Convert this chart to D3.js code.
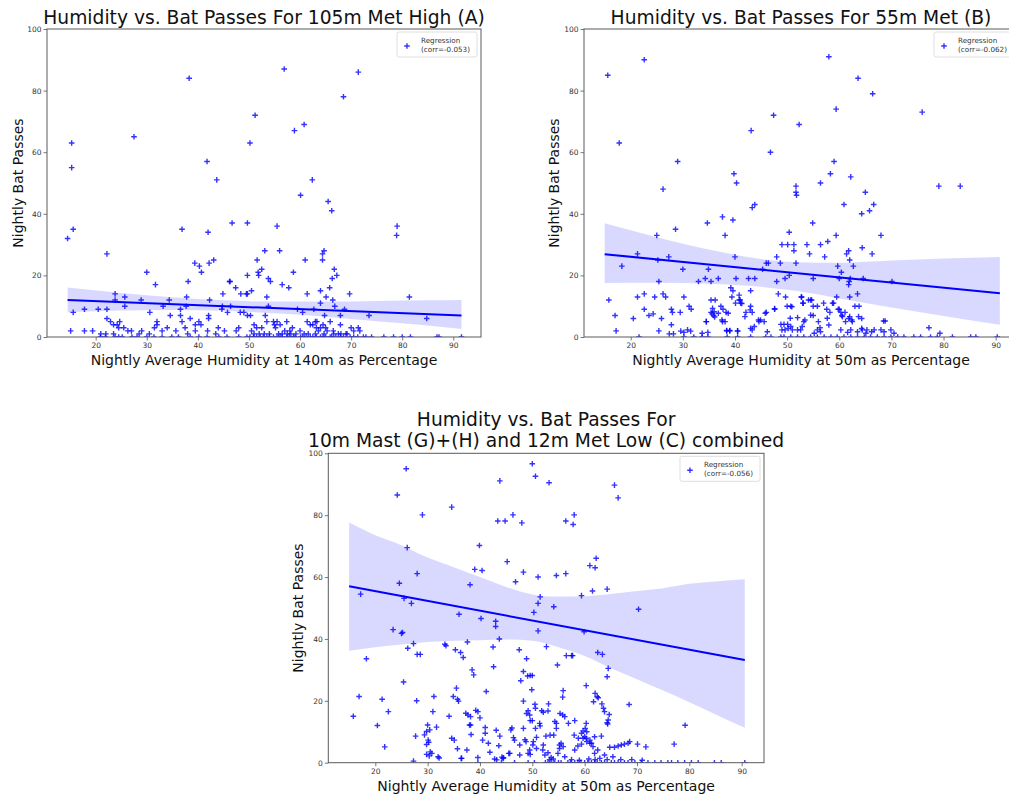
<!DOCTYPE html>
<html>
<head>
<meta charset="utf-8">
<script src="https://cdn.jsdelivr.net/npm/d3@7"></script>
<style>
  body { margin: 0; background: #fff; }
  svg { display: block; }
  text { font-family: "DejaVu Sans", sans-serif; }
</style>
</head>
<body>
<svg id="chart" width="1009" height="798"></svg>
<script>
// ---- shared axis ticks ----
const xTicks = [20, 30, 40, 50, 60, 70, 80, 90];
const yTicks = [0, 20, 40, 60, 80, 100];

// ---- (A) 105m Met High: [humidity %, bat passes] per night ----
const titleA = ["Humidity vs. Bat Passes For 105m Met High (A)"];
const xLabelA = "Nightly Average Humidity at 140m as Percentage";
const corrA = "-0.053";
const nightsA = [
  [14.5,32],[15.3,63],[15.3,55],[15.6,35],[15.6,8],[15.1,2],[27.5,65],[38.3,84],[56.9,87],[71.4,86],[68.5,78],[51.2,72],
  [50.2,63],[58.9,67],[60.8,69],[41.8,57],[43.7,51],[62.4,51],[60.1,46],[65.5,44],[66.2,41],[36.9,35],[42.0,34],[55.5,36],
  [46.7,37],[49.7,37],[78.9,33],[79.0,36],[22.2,27],[53.1,28],[56.0,28],[64.4,27],[64.7,28],[39.4,24],[40.3,23],[40.7,21],
  [42.2,24],[43.1,25],[51.6,25],[61.0,25],[64.4,25],[30.0,21],[31.7,17],[38.1,18],[46.2,18],[46.3,18],[47.4,16],[49.7,20],
  [51.8,21],[51.9,20],[52.5,22],[53.8,19],[54.2,18],[58.7,21],[56.5,17],[57.8,16],[66.7,22],[66.3,19],[67.2,20],[65.8,16],[64.0,15],
  [23.8,14],[23.8,12],[25.7,13],[25.7,10],[28.9,12],[34.4,12],[33.2,10],[37.8,13],[37.7,10],[42.3,12],[44.9,14],[48.4,14],
  [49.5,14],[49.7,14],[50.5,15],[53.5,13],[61.4,14],[65.1,13],[69.7,14],[81.4,13],[84.8,6],[73.5,7],[68.7,9],[67.9,7],
  [66.8,10],[66.4,12],[64.0,11],[64.8,7],[65.9,5],[67.9,4],[71.4,3],[71.7,2],
  [17.8,9],[20.5,9],[22.2,9],[22.2,6],[22.9,5],[23.5,4],[24.2,4],[24.5,3],[30.6,8],[32.0,5],[32.0,4],[34.6,7],[36.6,9],
  [36.6,7],[36.9,5],[38.5,6],[39.5,4],[40.2,5],[40.6,4],[42.1,7],[42.1,6],[44.7,9],[45.8,8],[44.8,10],[46.4,10],[48.3,8],
  [49.0,8],[49.7,7],[50.3,7],[53.8,10],[53.2,7],[53.5,5],[56.1,4],[54.8,5],[57.4,5],[61.4,5],[62.7,9],[63.3,5],[62.5,4],
  [63.2,3],[64.0,3],[64.5,4],[65.0,3],[62.0,4],[65.3,2],[63.6,2],[52.5,3],[55.2,3],[55.0,4],[55.5,5],[57.0,2],[58.5,3],
  [60.0,2],[59.2,1],[48.0,3],[47.5,2],[45.2,2],[44.0,3],[43.5,1],[41.9,2],[39.5,2],[38.0,1],[37.5,3],[35.7,2],[34.0,3],
  [33.0,2],[31.5,3],[30.5,1],[29.0,2],[27.0,2],[25.5,3],[24.7,5],[26.3,2],[28.5,1],[51.0,4],[51.5,3],[50.5,2],[53.0,1],
  [56.5,1],[58.0,2],[59.5,9],[60.5,8],[63.0,5],[70.0,3],[70.5,2],[69.0,1],[67.5,1],[66.5,2],[17.8,2],[19.4,2],[21.0,1],
  [22.0,1],[23.5,1],
  [51.0,1],[52.0,1],[54.0,1],[55.8,1],[57.5,1],[58.2,1],[60.8,1],[61.6,1],[63.0,1],[64.7,1],[66.6,1],[68.0,1],[69.2,1],
  [20.9,0],[21.9,0],[23.8,0],[24.5,0],[25.2,0],[27.1,0],[28.1,0],[30.0,0],[31.4,0],[33.0,0],[34.9,0],[36.2,0],[38.5,0],
  [40.2,0],[41.8,0],[44.1,0],[45.7,0],[48.0,0],[49.6,0],[50.9,0],[52.2,0],[53.5,0],[54.8,0],[56.1,0],[57.4,0],[58.7,0],
  [60.1,0],[62.0,0],[64.0,0],[65.9,0],[67.9,0],[69.8,0],[72.4,0],[74.0,0],[76.4,0],[78.3,0],[80.0,0],[81.6,0],[86.8,0],
  [87.2,0],[91.6,0],[50.2,0],[51.5,0],[52.8,0],[54.0,0],[55.5,0],[56.5,0],[57.9,0],[59.0,0],[60.5,0],[61.2,0],[62.5,0],
  [63.2,0],[64.5,0],[65.0,0],[66.2,0],[67.0,0],[68.5,0],[70.5,0],[71.3,0],[72.9,0]
];
const fitA = [[14.5,12.0],[91.6,7.0]];
// confidence band: [humidity, lower, upper]
const bandA = [[14.5,8.0,16.1],[25,8.6,14.3],[35,8.8,12.9],[45,8.5,11.9],[55,7.7,11.5],[65,6.6,11.5],[75,5.1,11.7],[85,3.7,11.9],[91.6,2.6,12.0]];

// ---- (B) 55m Met ----
const titleB = ["Humidity vs. Bat Passes For 55m Met (B)"];
const xLabelB = "Nightly Average Humidity at 50m as Percentage";
const corrB = "-0.062";
const nightsB = [
  [15.6,85],[22.6,90],[17.8,63],[29.0,57],[26.2,48],[28.6,35],[25.0,33],[21.3,27],[18.3,23],[58.0,91],[63.6,84],[66.4,79],
  [47.4,72],[43.1,67],[59.4,74],[52.3,69],[75.9,73],[46.8,60],[59.0,57],[58.3,53],[56.4,50],[62.2,52],[39.8,53],[40.3,50],
  [51.7,49],[51.7,47],[51.8,46],[65.0,47],[79.1,49],[83.2,49],[37.6,39],[39.6,38],[43.3,42],[43.8,43],[60.9,43],[64.3,40],
  [65.8,41],[66.6,43],[34.7,37],[38.1,33],[54.9,37],[59.4,33],[68.0,33],[50.4,34],[49.0,30],[50.1,30],[51.3,30],[53.8,30],
  [56.4,30],[57.8,31],[51.3,28],[51.7,24],[54.3,27],[57.2,26],[61.4,27],[61.8,28],[64.4,29],[66.3,27],[40.0,26],[27.3,26],
  [25.2,25],[30.0,22],[34.9,22],[33.0,18],[34.3,19],[35.4,18],[36.8,19],[40.2,19],[42.6,19],[43.8,19],[45.3,22],[46.0,24],
  [46.4,24],[48.0,26],[48.7,24],[48.0,18],[49.6,19],[50.4,20],[55.0,19],[59.7,23],[60.4,21],[60.0,19],[61.9,18],[61.8,17],
  [62.1,19],[62.0,25],[62.7,23],[64.6,19],[70.1,18],[25.4,18],
  [15.8,12],[17.0,7],[17.2,2],[21.3,13],[22.6,14],[20.5,6],[22.6,9],[23.5,7],[24.3,7.5],[24.6,13],[25.9,6],[25.4,2],
  [26.2,14],[26.7,13],[27.8,9],[28.0,8],[27.8,4],[27.4,1],[28.2,1],[29.5,8],[30.2,13],[31.2,10],[31.6,9],[34.5,5],
  [35.4,12],[36.2,12],[35.4,8],[35.6,7.5],[35.9,7],[36.1,6.5],[37.3,10],[37.7,9],[37.6,5],[38.3,8],[38.4,2],[39.0,2],
  [39.2,16],[39.6,15],[39.4,13],[40.1,11],[40.5,2],[40.8,12],[41.1,11],[40.8,13.6],[42.1,8],[43.3,8],[43.0,15],[43.0,10],
  [46.0,8],[47.6,9],[48.3,14],[49.7,13],[50.0,10],[50.7,10],[52.7,13],[53.0,11],[54.5,12],[55.0,10],[55.8,10],[58.7,11],
  [59.5,13],[60.0,9],[60.3,8],[62.0,13],[63.5,14],[63.8,10],[64.3,6],
  [35.7,9.3],[36.0,8.2],[36.8,7.7],[37.5,5.5],[38.1,5.0],[38.7,7.7],[41.0,12.0],[41.3,10.9],[41.9,6.6],[42.9,8.8],[44.5,5.5],
  [45.8,7.7],[47.6,9.2],[50.6,6.1],[50.9,9.8],
  [52.8,13],[53.1,11],[54.1,12],[54.7,12],[55.0,7],[56.0,5],[56.3,3],[57.0,11],[57.6,9],[58.2,8],[58.9,11],[59.8,9],
  [60.5,7],[61.1,8],[61.8,6],[62.4,5.5],[63.0,10],[63.7,6.6],[64.3,2.8],[65.3,2.3],[66.2,1.7],
  [29.6,1.9],[30.2,1.5],[30.9,2.3],[31.5,1.9],[33.7,1.2],[34.8,1.5],[34.5,5.0],[38.4,2.1],[39.0,2.1],[40.5,1.9],[43.0,2.8],
  [43.3,2.3],[43.7,3.4],[44.6,5.0],[44.9,5.5],[45.6,5.0],[46.2,1.7],[48.8,4.1],[49.4,4.1],[50.1,4.1],[50.7,3.4],[49.0,2.3],
  [49.6,2.3],[50.2,2.8],[51.0,2.3],[52.0,2.3],[52.6,2.3],[52.9,3.4],[53.2,5.0],[52.0,6.3],[53.4,5.5],[54.5,7.1],[55.2,1.2],
  [55.8,2.3],[56.4,1.7],[58.0,3.9],[57.7,6.1],[60.6,6.6],[61.2,5.0],[62.0,6.6],[62.5,5.0],[60.3,2.3],[61.6,1.5],[62.2,2.3],
  [63.5,1.7],[64.4,2.3],[65.1,1.2],[66.7,2.3],[68.0,2.3],[68.6,1.7],[69.9,2.3],[70.5,1.2],[68.5,5.2],[68.8,5.2],
  [77.2,3.0],[79.3,1.2],
  [21.6,0],[30.2,0],[32.1,0],[33.7,0],[34.8,0],[38.5,0],[40.5,0],[43.0,0],[45.9,0],[46.9,0],[48.8,0],[49.4,0],[50.7,0],
  [52.0,0],[53.2,0],[54.5,0],[55.8,0],[57.1,0],[58.4,0],[59.6,0],[60.9,0],[62.2,0],[63.5,0],[64.8,0],[66.0,0],[67.3,0],
  [68.6,0],[69.9,0],[71.2,0],[72.4,0],[74.3,0],[75.6,0],[77.5,0],[78.8,0],[81.7,0],[85.2,0],[86.2,0],[90.3,0]
];
const fitB = [[15.0,26.9],[90.8,14.2]];
const bandB = [[15.0,17.5,36.9],[25,17.6,32.4],[35,17.3,28.4],[45,16.3,25.3],[52,14.9,24.3],[60,12.5,24.1],[70,9.6,24.8],[80,6.8,25.5],[90.8,4.0,26.0]];

// ---- (C) 10m Mast (G)+(H) and 12m Met Low (C) ----
const titleC = ["Humidity vs. Bat Passes For", "10m Mast (G)+(H) and 12m Met Low (C) combined"];
const xLabelC = "Nightly Average Humidity at 50m as Percentage";
const corrC = "-0.056";
const nightsC = [
  [15.8,15.0],[16.9,21.4],[17.2,54.5],[18.3,33.6],[20.4,12.0],[21.3,20.5],[21.8,5.1],[22.5,16.5],[23.4,43.0],[24.2,86.5],
  [24.6,58.0],[25.0,41.8],[25.2,42.1],[25.4,26.1],[25.5,53.1],[25.9,95.0],[26.1,69.5],[26.2,37.0],[26.9,51.5],[27.3,38.5],
  [27.7,8.6],[27.9,20.0],[28.0,35.0],[28.6,35.0],[28.0,61.1],[27.3,0.5],[29.0,80.1],
  [29.4,9.0],[29.8,10.1],[30.0,12.2],[30.2,6.6],[29.8,5.9],[29.8,2.7],[30.3,2.2],[30.8,3.0],[30.5,3.5],
  [31.0,16.5],[31.2,21.4],[31.7,11.5],[32.0,1.9],[32.2,1.5],[33.3,38.3],[33.5,37.8],[34.1,15.0],[34.6,82.6],[34.6,7.9],
  [35.1,7.3],[35.3,36.5],[34.9,21.4],[35.7,20.5],[35.9,19.9],[35.5,24.1],[35.7,4.5],[36.0,48.0],[36.3,35.6],[36.8,34.0],
  [36.5,1.4],[37.3,16.0],[37.5,4.1],[37.6,39.0],[38.1,57.5],[38.0,12.2],[38.2,12.2],[38.2,14.9],[38.3,9.1],[38.5,30.0],
  [38.8,28.4],[39.0,62.5],[39.2,16.9],[39.6,16.5],[39.9,70.2],[40.0,14.5],[40.2,46.6],[40.4,62.1],[40.5,7.3],[41.0,9.5],
  [41.0,11.4],[41.2,23.0],[41.6,6.3],[41.9,3.4],[42.5,37.4],[42.6,31.0],[43.0,45.7],[43.0,44.0],[43.1,10.5],[43.4,78.1],
  [44.8,78.1],[43.7,40.0],[43.8,91.1],[43.8,8.6],[43.2,0.9],[43.6,5.5],[44.2,1.8],[44.5,1.6],[45.2,65.0],[45.5,3.0],
  [45.9,10.6],[46.1,11.2],[46.3,80.1],[46.4,8.1],[46.8,58.5],[47.5,36.5],[47.8,26.5],[48.0,77.5],[48.3,61.6],[48.3,19.9],
  [48.3,11.1],[48.3,29.5],[48.6,7.4],[48.8,6.8],[48.9,33.6],[48.9,15.9],[49.1,28.0],[49.6,28.2],[50.0,28.2],[49.6,13.6],
  [50.0,13.6],[49.9,23.6],[50.0,96.6],[50.3,48.6],[50.6,92.6],[50.5,18.9],[50.6,17.6],[50.6,11.1],[50.8,8.2],[51.1,60.0],
  [51.1,51.5],[51.1,42.6],[51.5,53.6],[51.5,11.9],[51.8,16.8],[52.1,16.3],[52.7,37.5],[53.1,19.0],[53.2,90.5],[53.4,8.9],
  [54.1,50.4],[54.3,13.3],[54.6,12.7],[54.1,8.9],[54.6,60.5],[54.8,31.6],[55.3,15.9],[55.8,15.4],[55.8,21.2],[55.9,23.3],
  [56.4,61.1],[56.4,78.1],[56.5,34.6],[56.9,12.7],[57.5,34.6],[57.7,34.6],[57.8,77.0],[58.0,80.1],[58.1,13.6],[59.4,54.0],
  [59.9,42.3],[60.3,24.9],[60.3,12.7],[61.0,63.7],[61.5,55.5],[61.7,19.7],[62.0,63.0],[62.2,66.1],[62.0,22.4],[62.4,21.3],
  [62.6,21.0],[62.5,35.6],[63.4,35.0],[63.3,19.0],[63.6,17.6],[63.8,16.5],[64.3,56.1],[64.5,30.5],[64.3,27.8],[64.3,12.9],
  [64.4,12.5],[64.7,15.6],[65.7,89.7],[66.4,85.6],[68.5,18.8],[70.3,49.6],[71.7,5.1],[77.1,6.0],[79.2,12.1],
  [30.4,10.6],[30.1,7.3],[37.7,15.4],[46.6,7.3],[47.6,5.7],[49.2,16.8],[49.5,15.4],[51.4,12.7],[53.0,16.7],[54.6,11.1],
  [55.2,5.7],[56.2,14.9],[59.7,10.3],[60.0,8.4],[60.1,11.1],[61.9,8.4],[63.2,8.6],[64.5,13.8],
  [58.0,8.9],[58.8,7.9],[59.4,9.5],[60.4,10.0],[60.4,6.8],[61.0,6.3],[52.1,5.7],[52.6,8.6],[49.6,2.7],[50.1,5.7],[50.2,6.8],
  [36.4,1.4],[39.6,1.7],[42.8,1.2],[44.4,1.4],[45.7,3.0],[47.6,2.5],[49.2,3.0],[49.5,4.1],[50.8,4.6],[52.0,4.1],[52.4,2.5],
  [53.0,3.2],[53.6,1.7],[54.9,3.0],[55.2,4.6],[55.5,6.3],[55.9,5.2],[56.2,1.9],[58.1,4.1],[58.7,5.4],[59.4,6.0],[59.7,7.9],
  [60.3,7.9],[61.0,7.3],[61.3,6.3],[61.6,5.2],[61.9,3.0],[62.5,4.1],[62.9,1.4],[63.8,2.5],[64.8,5.0],[65.4,1.9],[65.7,5.0],
  [66.4,5.4],[67.0,5.7],[67.6,6.0],[68.3,6.3],[68.6,6.8],[70.1,6.0],
  [53.3,1.0],[54.0,1.2],[57.5,1.0],[59.0,0.8],[60.8,1.2],[62.0,1.0],[64.3,1.0],[66.9,1.0],[69.0,1.0],[71.0,0.8],
  [39.6,0],[44.1,0],[46.6,0],[49.2,0],[50.4,0],[53.0,0],[53.6,0],[54.3,0],[55.5,0],[56.8,0],[58.1,0],[58.7,0],[60.0,0],
  [61.3,0],[61.9,0],[63.2,0],[63.8,0],[65.1,0],[65.7,0],[66.4,0],[67.6,0],[68.3,0],[69.6,0],[70.8,0],[72.1,0],[73.4,0],
  [74.6,0],[75.9,0],[76.6,0],[77.8,0],[79.1,0],[80.4,0],[81.7,0],[84.8,0],[86.1,0],[90.6,0],[52.5,0],[55.0,0],[57.3,0],
  [59.3,0],[60.6,0],[62.4,0]
];
const fitC = [[15.0,57.0],[90.6,33.2]];
const bandC = [[15,36.2,77.6],[20,37.3,73.5],[25,38.2,70.3],[30,39.0,66.3],[35,39.4,63.2],[40,39.6,60.0],[45,39.8,56.8],
  [50,39.4,54.4],[55,37.3,53.7],[60,34.5,53.8],[65,30.5,54.5],[70,27.0,55.5],[75,23.3,56.4],[80,19.5,57.8],[85,15.6,58.6],[90.6,11.3,59.3]];

// ---- panel layout ----
const panels = [
  { key: "a", title: titleA, xLabel: xLabelA, corr: corrA, nights: nightsA, fit: fitA, band: bandA,
    frame: { left: 47, top: 29, right: 481, bottom: 337 }, xDomain: [10.47, 95.42],
    titleBase: 24, xLabelBase: 365, yLabelBase: 23 },
  { key: "b", title: titleB, xLabel: xLabelB, corr: corrB, nights: nightsB, fit: fitB, band: bandB,
    frame: { left: 584, top: 29, right: 1018, bottom: 337 }, xDomain: [11.04, 94.28],
    titleBase: 24, xLabelBase: 365, yLabelBase: 559 },
  { key: "c", title: titleC, xLabel: xLabelC, corr: corrC, nights: nightsC, fit: fitC, band: bandC,
    frame: { left: 328.3, top: 453.3, right: 764, bottom: 762.7 }, xDomain: [11.02, 94.27],
    titleBase: 425.5, xLabelBase: 791, yLabelBase: 303 }
];

const svg = d3.select("#chart");
svg.append("rect").attr("width", 1009).attr("height", 798).attr("fill", "#fff");

const plus = "M-2.8,0H2.8M0,-2.8V2.8";
const markColor = "#0000ff";

panels.forEach(p => {
  const f = p.frame;
  const x = d3.scaleLinear().domain(p.xDomain).range([f.left, f.right]);
  const y = d3.scaleLinear().domain([0, 100]).range([f.bottom, f.top]);
  const g = svg.append("g");

  g.append("clipPath").attr("id", "clip-" + p.key)
    .append("rect").attr("x", f.left).attr("y", f.top)
    .attr("width", f.right - f.left).attr("height", f.bottom - f.top);

  const plot = g.append("g").attr("clip-path", `url(#clip-${p.key})`);

  // nightly observations
  plot.append("g").selectAll("path").data(p.nights).join("path")
    .attr("transform", d => `translate(${x(d[0])},${y(d[1])})`)
    .attr("d", plus)
    .attr("stroke", markColor).attr("stroke-width", 1.4).attr("stroke-opacity", 0.8)
    .attr("fill", "none");

  // confidence band of the regression
  plot.append("path").datum(p.band)
    .attr("d", d3.area().x(d => x(d[0])).y0(d => y(d[1])).y1(d => y(d[2])).curve(d3.curveMonotoneX))
    .attr("fill", markColor).attr("fill-opacity", 0.15);

  // regression line
  plot.append("path").datum(p.fit)
    .attr("d", d3.line().x(d => x(d[0])).y(d => y(d[1])))
    .attr("stroke", markColor).attr("stroke-width", 2).attr("fill", "none");

  // axes
  const xAxis = g.append("g").attr("transform", `translate(0,${f.bottom})`)
    .call(d3.axisBottom(x).tickValues(xTicks).tickSize(3.5).tickPadding(2.5));
  const yAxis = g.append("g").attr("transform", `translate(${f.left},0)`)
    .call(d3.axisLeft(y).tickValues(yTicks).tickSize(3.5).tickPadding(2));
  [xAxis, yAxis].forEach(a => {
    a.select(".domain").remove();
    a.selectAll("line").attr("stroke", "#555").attr("stroke-width", 0.8);
    a.selectAll("text").attr("font-size", 7.5).attr("fill", "#333")
      .attr("font-family", "DejaVu Sans, sans-serif");
  });

  // frame
  g.append("rect").attr("x", f.left).attr("y", f.top)
    .attr("width", f.right - f.left).attr("height", f.bottom - f.top)
    .attr("fill", "none").attr("stroke", "#5a5a5a").attr("stroke-width", 1);

  // title
  const cx = (f.left + f.right) / 2;
  p.title.forEach((line, i) => {
    svg.append("text").attr("x", cx).attr("y", p.titleBase + i * 21)
      .attr("text-anchor", "middle").attr("font-size", 18.7).attr("fill", "#111").text(line);
  });

  // axis labels
  svg.append("text").attr("x", cx).attr("y", p.xLabelBase)
    .attr("text-anchor", "middle").attr("font-size", 14).attr("fill", "#111").text(p.xLabel);
  svg.append("text")
    .attr("transform", `translate(${p.yLabelBase},${(f.top + f.bottom) / 2}) rotate(-90)`)
    .attr("text-anchor", "middle").attr("font-size", 14).attr("fill", "#111").text("Nightly Bat Passes");

  // legend
  const lg = svg.append("g").attr("transform", `translate(${f.right - 84},${f.top + 3})`);
  lg.append("rect").attr("width", 80).attr("height", 25).attr("rx", 2)
    .attr("fill", "#fff").attr("fill-opacity", 0.85).attr("stroke", "#d6d6d6").attr("stroke-width", 0.8);
  lg.append("path").attr("transform", "translate(10,14)").attr("d", plus)
    .attr("stroke", markColor).attr("stroke-width", 1.4).attr("stroke-opacity", 0.8);
  lg.append("text").attr("x", 24).attr("y", 11).attr("font-size", 7.2).attr("fill", "#333").text("Regression");
  lg.append("text").attr("x", 24).attr("y", 20).attr("font-size", 7.2).attr("fill", "#333").text(`(corr=${p.corr})`);
});
</script>
</body>
</html>
